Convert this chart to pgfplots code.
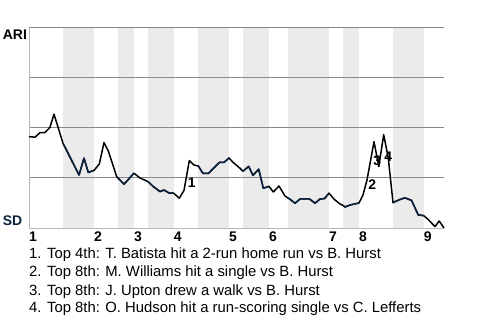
\documentclass[border=0pt]{standalone}
\usepackage{pgfplots}
\pgfplotsset{compat=1.18}
\usepackage{pgfplotstable}
\usepackage{fontspec}
\setmainfont{Liberation Sans}
\definecolor{navy}{HTML}{0C2340}
\definecolor{band}{HTML}{EBEBEB}
\definecolor{gridc}{HTML}{8A8A8A}
\definecolor{axc}{HTML}{B8B8B8}

\pgfplotstableread{
x y
29 45.7
35 45.4
40 47.7
45 47.7
50 50.4
54 56.9
63 42.4
79 26.5
84 34.9
88.3 27.8
94 28.8
99.3 32.0
104 42.7
108.3 38.5
116.7 25.7
118 25.0
124 21.9
134 27.4
140 25.0
148 23.2
153.3 20.7
160 18.2
164 19.0
169.3 17.4
173.7 17.4
179.3 14.9
184 18.8
189.3 33.7
194 31.5
198.3 31.0
203 27.3
208.5 27.3
213.5 29.9
219.3 32.8
224 32.8
229 35.0
233.3 32.7
240 29.9
243 28.4
248.7 30.8
253 26.3
258.7 29.4
263.3 19.9
269 20.8
273.3 18.0
279 21.0
285 16.0
288 15.0
290 14.4
295 12.4
300 14.5
309.5 14.5
315 12.4
320 14.5
324.5 14.7
329 17.4
334.3 14.3
340 12.0
343 11.3
345 10.5
350 11.5
359 12.5
363 16.5
367 24.0
374 43.2
378.8 30.7
383.7 46.7
388.3 34.9
393 12.7
399.7 14.2
405 15.1
411.5 13.8
418.3 6.5
423.7 6.2
428.3 4.2
435 0.7
439.2 3.5
444 0.0
}\wp

\begin{document}
\begin{tikzpicture}[x=1bp,y=1bp]
\begin{axis}[
  set layers,
  scale only axis, width=415bp, height=200bp,
  at={(0,0)}, anchor=south west,
  xmin=29, xmax=444, ymin=0, ymax=100,
  clip=false,
  axis x line*=bottom, axis y line*=left,
  axis line style={-, draw=axc, line width=1bp},
  ytick={25,50,75,100}, yticklabels={},
  ymajorgrids=true,
  grid style={draw=gridc, line width=1bp},
  major tick length=0pt,
  xtick={29,94,134,173.7,229,269,329,359,423.7},
  xticklabels={1,2,3,4,5,6,7,8,9},
  xticklabel style={anchor=north west, inner sep=0pt, xshift=0bp, yshift=-4bp,
    font=\fontsize{14}{14}\selectfont\bfseries},
]
\foreach \a/\b in {63/94,118/134,148/173.7,198.3/229,243/269,288/329,343/359,393/423.7}{
  \edef\tmp{\noexpand\addplot[fill=band, draw=none, on layer=axis background]
    coordinates {(\a,0) (\a,100) (\b,100) (\b,0)} -- cycle;}
  \tmp
}
\addplot[black, line width=1.5bp, line join=round] table[x=x,y=y] {\wp};
\foreach \a/\b in {63/94,118/134,148/173.7,198.3/229,243/269,288/329,343/359,393/423.7}{
  \edef\tmp{\noexpand\addplot[navy, line width=1.5bp, line join=round, restrict x to domain=\a:\b] table[x=x,y=y] {\noexpand\wp};}
  \tmp
}
\node[font=\fontsize{14}{14}\selectfont\bfseries] at (axis cs:191.7,22.8) {1};
\node[font=\fontsize{14}{14}\selectfont\bfseries] at (axis cs:372.3,21.5) {2};
\node[font=\fontsize{14}{14}\selectfont\bfseries] at (axis cs:377.3,33.6) {3};
\node[font=\fontsize{14}{14}\selectfont\bfseries] at (axis cs:388.3,35.6) {4};
\end{axis}
\node[anchor=base west, inner sep=0pt, font=\fontsize{14}{14}\selectfont\bfseries] at (-26.3bp,188.7bp) {ARI};
\node[anchor=base west, inner sep=0pt, font=\fontsize{14}{14}\selectfont\bfseries, text=navy] at (-26.3bp,2.5bp) {SD};
\begin{scope}[every node/.style={anchor=base west, inner sep=0pt, font=\fontsize{14.9}{14.9}\selectfont}]
\node at (0bp,-30.3bp) {1. Top 4th: T. Batista hit a 2-run home run vs B. Hurst};
\node at (0bp,-48.7bp) {2. Top 8th: M. Williams hit a single vs B. Hurst};
\node at (0bp,-67bp) {3. Top 8th: J. Upton drew a walk vs B. Hurst};
\node at (0bp,-84.5bp) {4. Top 8th: O. Hudson hit a run-scoring single vs C. Lefferts};
\end{scope}
\path[use as bounding box] (-29bp,-92bp) rectangle (451bp,228bp);
\end{tikzpicture}
\end{document}
